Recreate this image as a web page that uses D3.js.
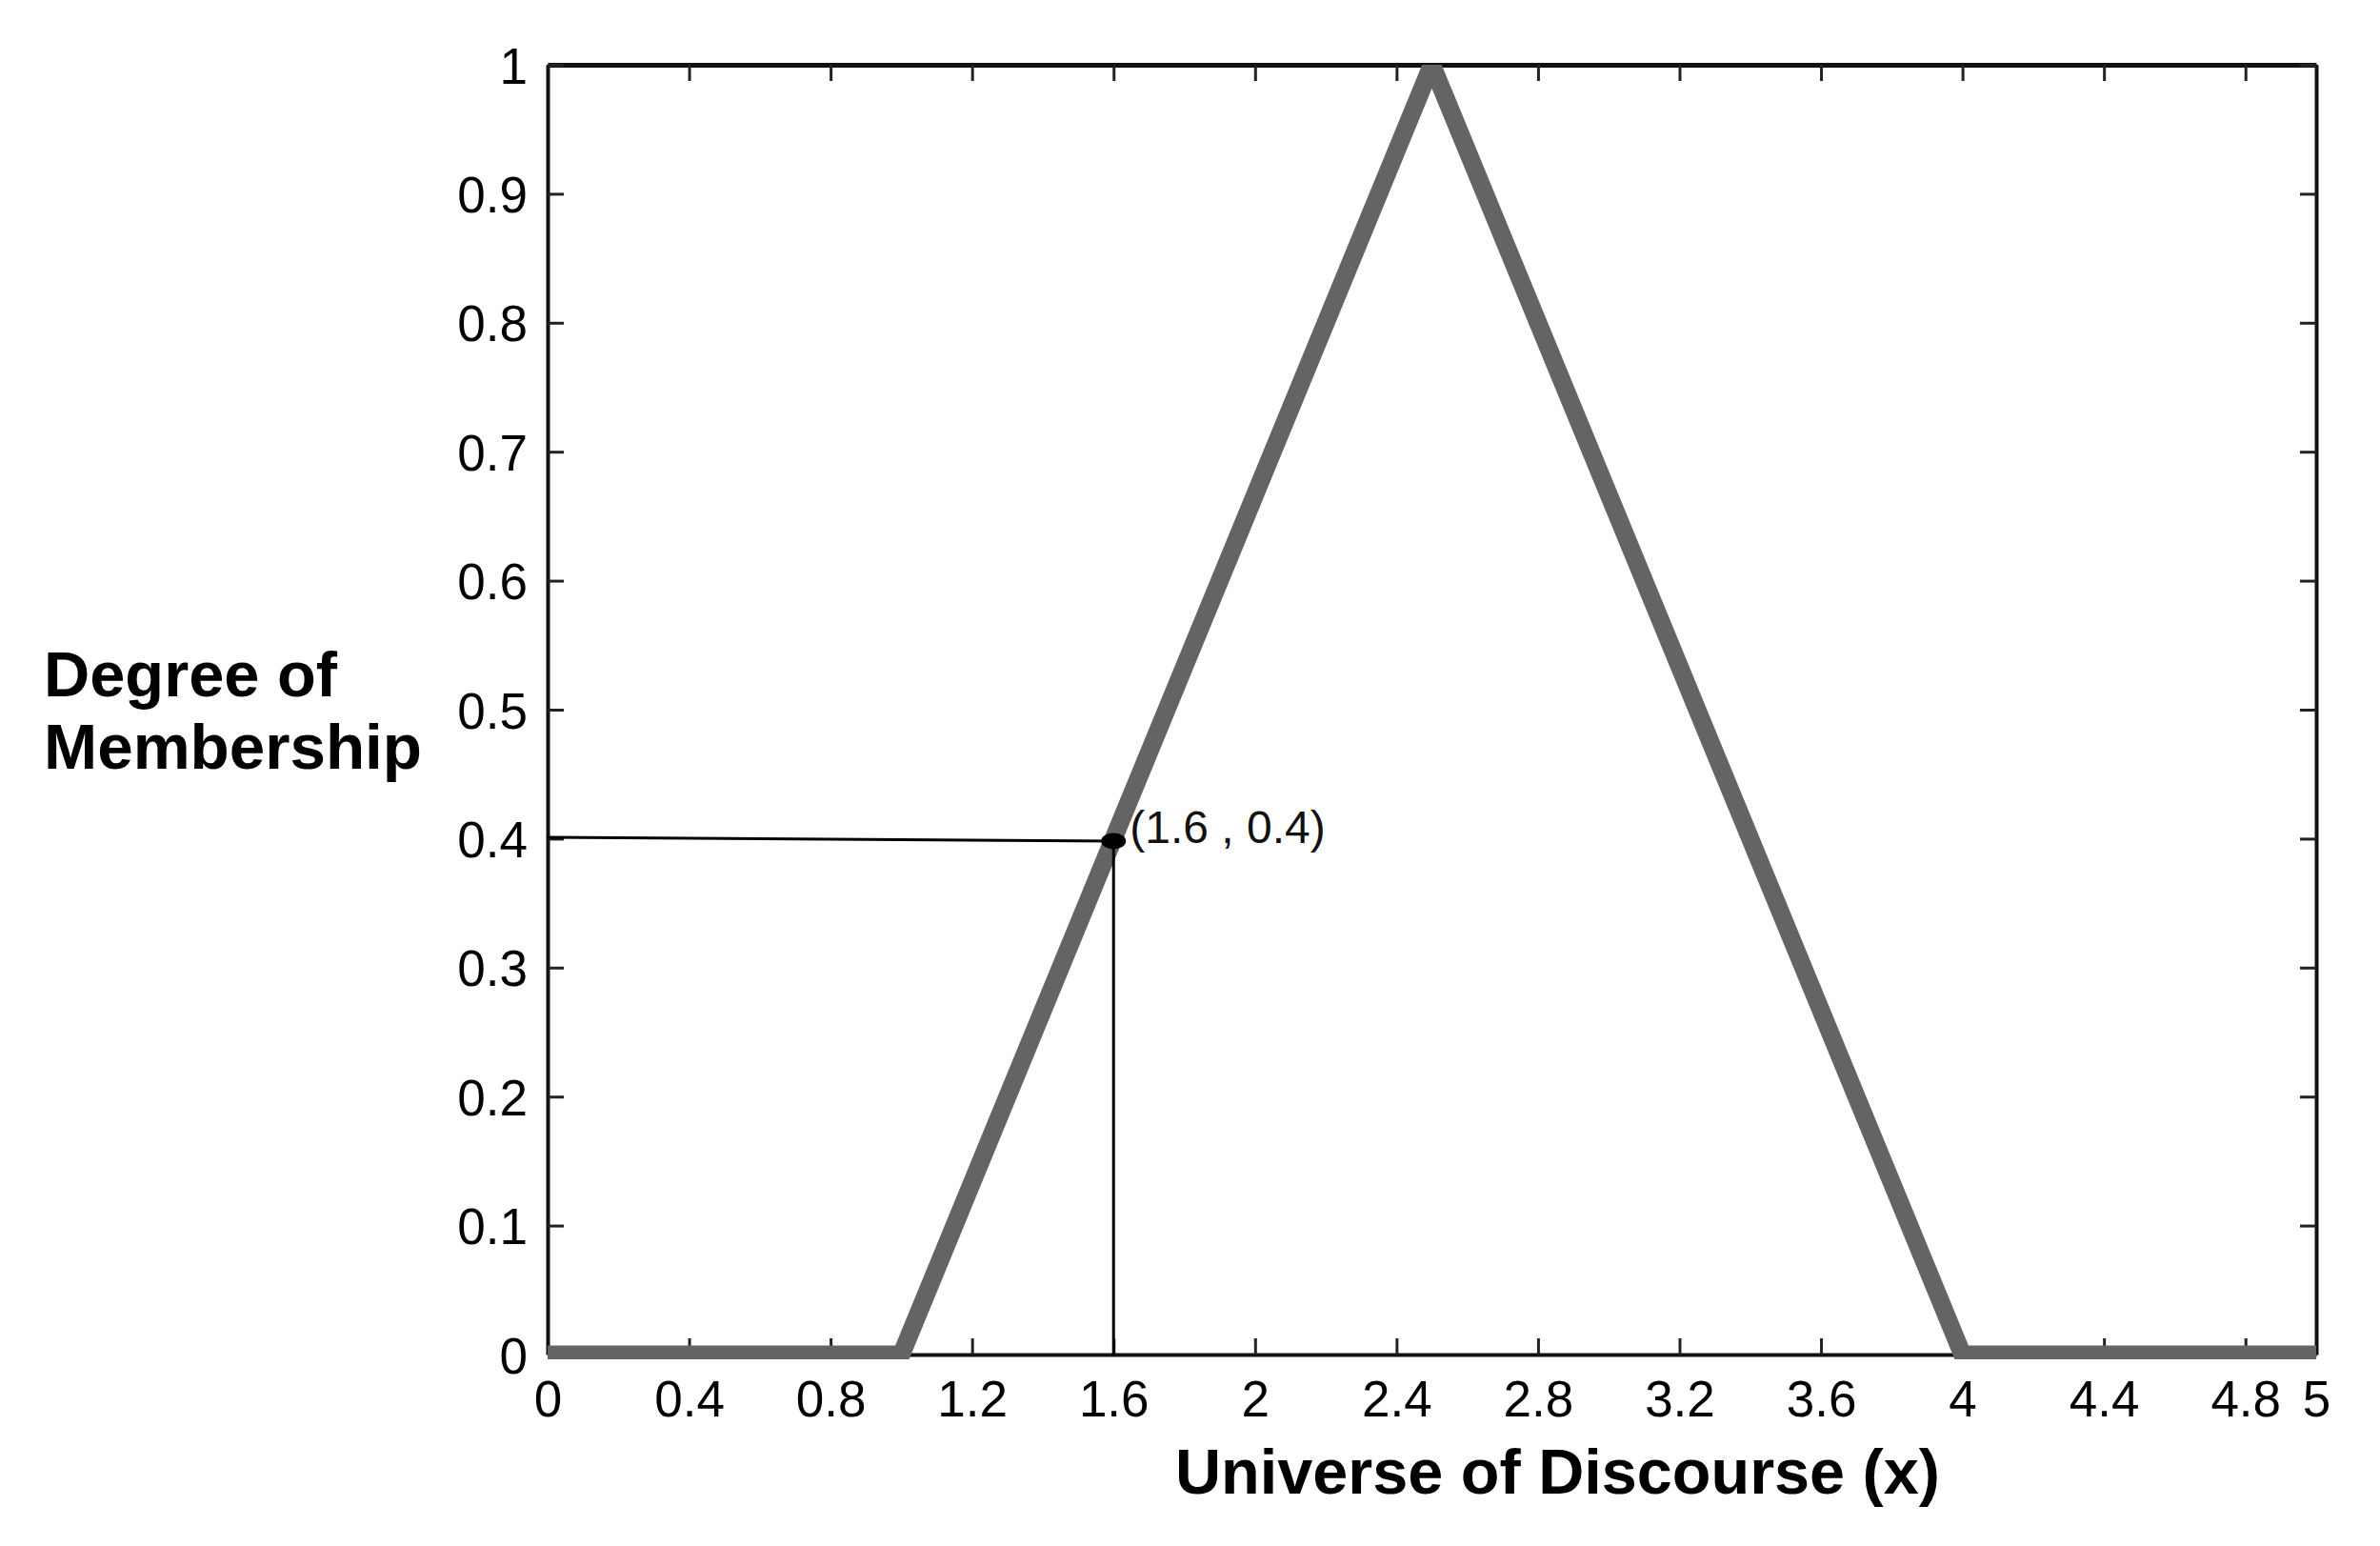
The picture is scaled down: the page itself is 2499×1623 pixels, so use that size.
<!DOCTYPE html>
<html><head><meta charset="utf-8">
<script src="https://cdn.jsdelivr.net/npm/d3@7"></script>
<style>html,body{margin:0;padding:0;background:#fff;}</style>
</head><body>
<svg id="chart" width="2499" height="1623"></svg>
<script>
// Data
const membershipX = [0, 1, 2.5, 4, 5];
const membershipY = [0, 0, 1, 0, 0];
const xTickValues = [0, 0.4, 0.8, 1.2, 1.6, 2, 2.4, 2.8, 3.2, 3.6, 4, 4.4, 4.8, 5];
const yTickValues = [0, 0.1, 0.2, 0.3, 0.4, 0.5, 0.6, 0.7, 0.8, 0.9, 1];
const pointX = 1.6, pointY = 0.398, guideStartY = 0.401;
const pointLabel = "(1.6 , 0.4)";
const xTitle = "Universe of Discourse (x)";
const yTitleLines = ["Degree of", "Membership"];

const svg = d3.select("#chart");
const L = 575, R = 2432, T = 68, B = 1422;
const x = d3.scaleLinear().domain([0, 5]).range([L, R]);
const y = d3.scaleLinear().domain([0, 1]).range([B, T]);
const font = "'Liberation Sans', Arial, Helvetica, sans-serif";

svg.append("defs").append("clipPath").attr("id", "clip")
  .append("rect").attr("x", L).attr("y", T).attr("width", R - L).attr("height", B - T + 5);

// Axes (ticks inside)
const tickLen = 17;
const fmt = d => d3.format("~g")(d);
const gB = svg.append("g").attr("transform", `translate(0,${B})`)
  .call(d3.axisBottom(x).tickValues(xTickValues).tickSizeInner(-tickLen).tickSizeOuter(0).tickPadding(tickLen + 10).tickFormat(fmt));
const gT = svg.append("g").attr("transform", `translate(0,${T})`)
  .call(d3.axisTop(x).tickValues(xTickValues).tickSizeInner(-tickLen).tickSizeOuter(0).tickFormat(""));
const gL = svg.append("g").attr("transform", `translate(${L},0)`)
  .call(d3.axisLeft(y).tickValues(yTickValues).tickSizeInner(-tickLen).tickSizeOuter(0).tickPadding(tickLen + 4).tickFormat(fmt));
const gR = svg.append("g").attr("transform", `translate(${R},0)`)
  .call(d3.axisRight(y).tickValues(yTickValues).tickSizeInner(-tickLen).tickSizeOuter(0).tickFormat(""));
[gB, gT, gL, gR].forEach(g => {
  g.select(".domain").attr("stroke", "#111").attr("stroke-width", 4);
  g.selectAll(".tick line").attr("stroke", "#222").attr("stroke-width", 3);
  g.selectAll("text").attr("font-family", font).attr("font-size", 53).attr("fill", "#000");
});
gL.selectAll(".tick text").attr("dy", "0.36em");
gB.selectAll(".tick text").attr("dy", "0.71em");
gT.select(".domain").attr("stroke-width", 5);

// Membership function
svg.append("path")
  .datum(membershipX.map((d, i) => [d, membershipY[i]]))
  .attr("clip-path", "url(#clip)")
  .attr("fill", "none").attr("stroke", "#646464").attr("stroke-width", 19)
  .attr("stroke-linejoin", "miter").attr("stroke-miterlimit", 10)
  .attr("d", d3.line().x(d => x(d[0])).y(d => y(d[1])));

// Guide lines
svg.append("line").attr("x1", x(0)).attr("y1", y(guideStartY)).attr("x2", x(pointX)).attr("y2", y(pointY))
  .attr("stroke", "#000").attr("stroke-width", 3);
svg.append("line").attr("x1", x(pointX)).attr("y1", y(pointY)).attr("x2", x(pointX)).attr("y2", y(0))
  .attr("stroke", "#000").attr("stroke-width", 3);
svg.append("ellipse").attr("cx", x(pointX)).attr("cy", y(pointY)).attr("rx", 13).attr("ry", 8.5).attr("fill", "#000");
svg.append("text").attr("x", x(pointX) + 17).attr("y", y(pointY) + 2)
  .attr("font-family", font).attr("font-size", 48).attr("fill", "#111").text(pointLabel);

// Titles
svg.append("text").attr("x", (1234 + 2037) / 2).attr("y", 1568).attr("text-anchor", "middle")
  .attr("font-family", font).attr("font-weight", "bold").attr("font-size", 66).attr("fill", "#000")
  .attr("textLength", 803).attr("lengthAdjust", "spacingAndGlyphs").text(xTitle);
const yt = svg.append("text").attr("font-family", font).attr("font-weight", "bold").attr("font-size", 66).attr("fill", "#000");
yTitleLines.forEach((t, i) => yt.append("tspan").attr("x", 46).attr("y", 731 + i * 76)
  .attr("textLength", i === 0 ? 308 : 397).attr("lengthAdjust", "spacingAndGlyphs").text(t));
</script>
</body></html>
